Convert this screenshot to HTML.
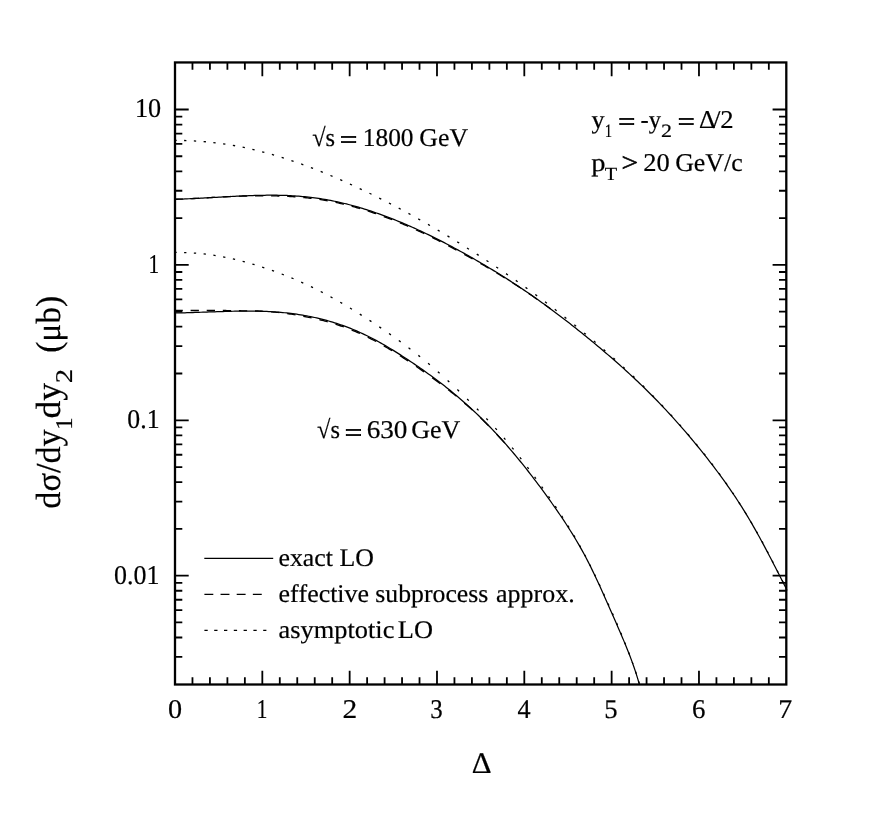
<!DOCTYPE html>
<html><head><meta charset="utf-8"><title>plot</title>
<style>html,body{margin:0;padding:0;background:#fff;}body{width:872px;height:828px;position:relative;overflow:hidden;font-family:"Liberation Serif",serif;}</style>
</head><body>
<svg width="872" height="828" viewBox="0 0 872 828" style="position:absolute;left:0;top:0;filter:grayscale(1)">
<rect width="872" height="828" fill="#fff"/>
<defs><clipPath id="cp"><rect x="175.00" y="62.45" width="612.50" height="622.05"/></clipPath></defs>
<g clip-path="url(#cp)" fill="none" stroke="#000">
<path d="M175.00 199.30 L176.99 199.23 L178.99 199.16 L180.98 199.09 L182.98 199.01 L184.97 198.93 L186.97 198.84 L188.96 198.75 L190.96 198.66 L192.95 198.56 L194.94 198.46 L196.94 198.36 L198.93 198.26 L200.93 198.15 L202.92 198.04 L204.92 197.93 L206.91 197.82 L208.91 197.71 L210.90 197.60 L212.89 197.49 L214.89 197.38 L216.88 197.27 L218.88 197.15 L220.87 197.04 L222.87 196.93 L224.86 196.82 L226.86 196.72 L228.85 196.61 L230.84 196.50 L232.84 196.40 L234.83 196.30 L236.83 196.20 L238.82 196.11 L240.82 196.02 L242.81 195.93 L244.81 195.84 L246.80 195.76 L248.80 195.69 L250.79 195.61 L252.78 195.55 L254.78 195.49 L256.77 195.43 L258.77 195.38 L260.76 195.33 L262.76 195.29 L264.75 195.26 L266.75 195.24 L268.74 195.22 L270.73 195.21 L272.73 195.21 L274.72 195.22 L276.72 195.24 L278.71 195.27 L280.71 195.30 L282.70 195.35 L284.70 195.41 L286.69 195.48 L288.68 195.56 L290.68 195.66 L292.67 195.77 L294.67 195.89 L296.66 196.02 L298.66 196.17 L300.65 196.34 L302.65 196.51 L304.64 196.70 L306.63 196.91 L308.63 197.12 L310.62 197.36 L312.62 197.60 L314.61 197.86 L316.61 198.14 L318.60 198.43 L320.60 198.73 L322.59 199.05 L324.58 199.38 L326.58 199.73 L328.57 200.09 L330.57 200.46 L332.56 200.85 L334.56 201.26 L336.55 201.67 L338.55 202.11 L340.54 202.56 L342.53 203.02 L344.53 203.49 L346.52 203.98 L348.52 204.49 L350.51 205.01 L352.51 205.54 L354.50 206.09 L356.50 206.65 L358.49 207.22 L360.49 207.81 L362.48 208.41 L364.47 209.03 L366.47 209.65 L368.46 210.29 L370.46 210.95 L372.45 211.61 L374.45 212.29 L376.44 212.98 L378.44 213.68 L380.43 214.39 L382.42 215.12 L384.42 215.85 L386.41 216.60 L388.41 217.35 L390.40 218.12 L392.40 218.90 L394.39 219.69 L396.39 220.49 L398.38 221.30 L400.37 222.12 L402.37 222.95 L404.36 223.79 L406.36 224.64 L408.35 225.50 L410.35 226.38 L412.34 227.26 L414.34 228.15 L416.33 229.05 L418.32 229.97 L420.32 230.89 L422.31 231.82 L424.31 232.76 L426.30 233.72 L428.30 234.68 L430.29 235.65 L432.29 236.63 L434.28 237.61 L436.27 238.61 L438.27 239.62 L440.26 240.63 L442.26 241.65 L444.25 242.68 L446.25 243.72 L448.24 244.77 L450.24 245.82 L452.23 246.89 L454.22 247.96 L456.22 249.03 L458.21 250.12 L460.21 251.21 L462.20 252.31 L464.20 253.41 L466.19 254.52 L468.19 255.64 L470.18 256.77 L472.17 257.90 L474.17 259.04 L476.16 260.19 L478.16 261.34 L480.15 262.51 L482.15 263.68 L484.14 264.85 L486.14 266.04 L488.13 267.23 L490.13 268.43 L492.12 269.64 L494.11 270.86 L496.11 272.08 L498.10 273.31 L500.10 274.56 L502.09 275.80 L504.09 277.06 L506.08 278.33 L508.08 279.60 L510.07 280.89 L512.06 282.18 L514.06 283.48 L516.05 284.79 L518.05 286.11 L520.04 287.43 L522.04 288.77 L524.03 290.12 L526.03 291.47 L528.02 292.84 L530.01 294.21 L532.01 295.59 L534.00 296.99 L536.00 298.39 L537.99 299.80 L539.99 301.22 L541.98 302.65 L543.98 304.09 L545.97 305.54 L547.96 306.99 L549.96 308.46 L551.95 309.94 L553.95 311.42 L555.94 312.91 L557.94 314.41 L559.93 315.92 L561.93 317.44 L563.92 318.97 L565.91 320.51 L567.91 322.05 L569.90 323.60 L571.90 325.17 L573.89 326.74 L575.89 328.31 L577.88 329.90 L579.88 331.49 L581.87 333.09 L583.86 334.70 L585.86 336.32 L587.85 337.95 L589.85 339.58 L591.84 341.22 L593.84 342.86 L595.83 344.52 L597.83 346.18 L599.82 347.85 L601.81 349.53 L603.81 351.22 L605.80 352.92 L607.80 354.63 L609.79 356.34 L611.79 358.07 L613.78 359.81 L615.78 361.55 L617.77 363.31 L619.77 365.08 L621.76 366.86 L623.75 368.65 L625.75 370.46 L627.74 372.28 L629.74 374.11 L631.73 375.95 L633.73 377.81 L635.72 379.68 L637.72 381.56 L639.71 383.46 L641.70 385.38 L643.70 387.31 L645.69 389.26 L647.69 391.22 L649.68 393.20 L651.68 395.20 L653.67 397.21 L655.67 399.25 L657.66 401.30 L659.65 403.37 L661.65 405.46 L663.64 407.56 L665.64 409.68 L667.63 411.83 L669.63 413.99 L671.62 416.16 L673.62 418.36 L675.61 420.58 L677.60 422.81 L679.60 425.07 L681.59 427.34 L683.59 429.63 L685.58 431.95 L687.58 434.28 L689.57 436.63 L691.57 439.00 L693.56 441.39 L695.55 443.80 L697.55 446.23 L699.54 448.69 L701.54 451.16 L703.53 453.65 L705.53 456.16 L707.52 458.70 L709.52 461.26 L711.51 463.84 L713.50 466.45 L715.50 469.09 L717.49 471.75 L719.49 474.45 L721.48 477.17 L723.48 479.93 L725.47 482.72 L727.47 485.54 L729.46 488.40 L731.46 491.30 L733.45 494.24 L735.44 497.22 L737.44 500.25 L739.43 503.32 L741.43 506.45 L743.42 509.62 L745.42 512.85 L747.41 516.13 L749.41 519.48 L751.40 522.88 L753.39 526.34 L755.39 529.86 L757.38 533.43 L759.38 537.04 L761.37 540.71 L763.37 544.41 L765.36 548.16 L767.36 551.93 L769.35 555.74 L771.34 559.58 L773.34 563.43 L775.33 567.30 L777.33 571.19 L779.32 575.07 L781.32 578.96 L783.31 582.84 L785.31 586.72 L787.30 590.57" stroke-width="1.25"/>
<path d="M175.00 312.98 L177.00 312.95 L178.99 312.90 L180.99 312.86 L182.98 312.81 L184.98 312.76 L186.97 312.70 L188.97 312.64 L190.96 312.58 L192.96 312.52 L194.95 312.45 L196.95 312.38 L198.94 312.32 L200.94 312.25 L202.93 312.18 L204.93 312.11 L206.93 312.04 L208.92 311.97 L210.92 311.90 L212.91 311.83 L214.91 311.76 L216.90 311.69 L218.90 311.63 L220.89 311.57 L222.89 311.51 L224.88 311.45 L226.88 311.39 L228.87 311.34 L230.87 311.29 L232.86 311.25 L234.86 311.21 L236.86 311.17 L238.85 311.14 L240.85 311.12 L242.84 311.10 L244.84 311.08 L246.83 311.08 L248.83 311.08 L250.82 311.08 L252.82 311.10 L254.81 311.12 L256.81 311.15 L258.80 311.19 L260.80 311.24 L262.80 311.30 L264.79 311.37 L266.79 311.45 L268.78 311.54 L270.78 311.65 L272.77 311.77 L274.77 311.90 L276.76 312.04 L278.76 312.20 L280.75 312.37 L282.75 312.55 L284.74 312.75 L286.74 312.96 L288.73 313.18 L290.73 313.42 L292.73 313.68 L294.72 313.95 L296.72 314.23 L298.71 314.53 L300.71 314.84 L302.70 315.17 L304.70 315.52 L306.69 315.88 L308.69 316.26 L310.68 316.65 L312.68 317.07 L314.67 317.49 L316.67 317.94 L318.66 318.40 L320.66 318.88 L322.66 319.38 L324.65 319.90 L326.65 320.44 L328.64 320.99 L330.64 321.57 L332.63 322.16 L334.63 322.78 L336.62 323.41 L338.62 324.07 L340.61 324.74 L342.61 325.44 L344.60 326.16 L346.60 326.90 L348.59 327.66 L350.59 328.44 L352.59 329.25 L354.58 330.08 L356.58 330.93 L358.57 331.81 L360.57 332.70 L362.56 333.62 L364.56 334.56 L366.55 335.53 L368.55 336.51 L370.54 337.52 L372.54 338.54 L374.53 339.59 L376.53 340.66 L378.52 341.75 L380.52 342.85 L382.52 343.98 L384.51 345.13 L386.51 346.29 L388.50 347.47 L390.50 348.67 L392.49 349.89 L394.49 351.12 L396.48 352.36 L398.48 353.63 L400.47 354.90 L402.47 356.19 L404.46 357.48 L406.46 358.79 L408.45 360.11 L410.45 361.44 L412.45 362.78 L414.44 364.13 L416.44 365.49 L418.43 366.86 L420.43 368.24 L422.42 369.63 L424.42 371.04 L426.41 372.46 L428.41 373.89 L430.40 375.33 L432.40 376.79 L434.39 378.26 L436.39 379.75 L438.39 381.25 L440.38 382.77 L442.38 384.30 L444.37 385.85 L446.37 387.42 L448.36 389.01 L450.36 390.61 L452.35 392.23 L454.35 393.88 L456.34 395.54 L458.34 397.22 L460.33 398.93 L462.33 400.66 L464.32 402.41 L466.32 404.18 L468.32 405.98 L470.31 407.80 L472.31 409.64 L474.30 411.51 L476.30 413.40 L478.29 415.31 L480.29 417.25 L482.28 419.21 L484.28 421.20 L486.27 423.21 L488.27 425.24 L490.26 427.30 L492.26 429.39 L494.25 431.50 L496.25 433.64 L498.25 435.80 L500.24 437.98 L502.24 440.20 L504.23 442.43 L506.23 444.70 L508.22 446.98 L510.22 449.30 L512.21 451.64 L514.21 454.00 L516.20 456.39 L518.20 458.81 L520.19 461.25 L522.19 463.72 L524.18 466.21 L526.18 468.72 L528.18 471.26 L530.17 473.83 L532.17 476.41 L534.16 479.02 L536.16 481.66 L538.15 484.31 L540.15 486.99 L542.14 489.69 L544.14 492.41 L546.13 495.15 L548.13 497.91 L550.12 500.70 L552.12 503.50 L554.11 506.33 L556.11 509.19 L558.11 512.08 L560.10 515.00 L562.10 517.96 L564.09 520.96 L566.09 524.00 L568.08 527.09 L570.08 530.23 L572.07 533.42 L574.07 536.68 L576.06 540.00 L578.06 543.39 L580.05 546.86 L582.05 550.41 L584.05 554.05 L586.04 557.80 L588.04 561.64 L590.03 565.58 L592.03 569.61 L594.02 573.73 L596.02 577.93 L598.01 582.20 L600.01 586.55 L602.00 590.95 L604.00 595.41 L605.99 599.91 L607.99 604.43 L609.98 608.98 L611.98 613.53 L613.98 618.08 L615.97 622.62 L617.97 627.17 L619.96 631.76 L621.96 636.40 L623.95 641.12 L625.95 645.94 L627.94 650.90 L629.94 656.02 L631.93 661.36 L633.93 666.97 L635.92 672.92 L637.92 679.32 L639.91 686.32" stroke-width="1.25"/>
<path d="M175.00 199.30 L176.30 199.26 L177.60 199.21 L178.90 199.17 L180.20 199.12 L181.50 199.07 L182.80 199.02M190.60 198.67 L191.98 198.61 L193.37 198.54 L194.75 198.47 L196.13 198.40 L197.52 198.33 L198.90 198.26M206.70 197.84 L208.08 197.76 L209.47 197.68 L210.85 197.60 L212.23 197.53 L213.62 197.45 L215.00 197.37M222.80 196.94 L224.18 196.86 L225.57 196.78 L226.95 196.71 L228.33 196.64 L229.72 196.57 L231.10 196.50M238.90 196.17 L240.28 196.12 L241.67 196.08 L243.05 196.03 L244.43 195.99 L245.82 195.96 L247.20 195.92M255.00 195.79 L256.38 195.78 L257.77 195.76 L259.15 195.76 L260.53 195.75 L261.92 195.75 L263.30 195.75M271.10 195.83 L272.48 195.85 L273.87 195.88 L275.25 195.91 L276.63 195.95 L278.02 195.99 L279.40 196.03M287.20 196.35 L288.58 196.42 L289.97 196.49 L291.35 196.57 L292.73 196.66 L294.12 196.75 L295.50 196.84M303.30 197.47 L304.68 197.61 L306.07 197.75 L307.45 197.89 L308.83 198.05 L310.22 198.21 L311.60 198.38M319.40 199.45 L320.78 199.66 L322.17 199.88 L323.55 200.11 L324.93 200.34 L326.32 200.58 L327.70 200.83M335.50 202.35 L336.88 202.65 L338.27 202.95 L339.65 203.25 L341.03 203.57 L342.42 203.89 L343.80 204.22M351.60 206.20 L352.98 206.57 L354.37 206.95 L355.75 207.34 L357.13 207.73 L358.52 208.13 L359.90 208.54M367.70 210.95 L369.08 211.39 L370.47 211.85 L371.85 212.31 L373.23 212.78 L374.62 213.25 L376.00 213.73M383.80 216.52 L385.18 217.04 L386.57 217.56 L387.95 218.08 L389.33 218.61 L390.72 219.14 L392.10 219.68M399.90 222.82 L401.28 223.40 L402.67 223.97 L404.05 224.56 L405.43 225.15 L406.82 225.74 L408.20 226.34M416.00 229.80 L417.38 230.44 L418.77 231.07 L420.15 231.71 L421.53 232.36 L422.92 233.01 L424.30 233.66M432.10 237.43 L433.48 238.12 L434.87 238.81 L436.25 239.50 L437.63 240.19 L439.02 240.90 L440.40 241.60M448.20 245.65 L449.58 246.38 L450.97 247.11 L452.35 247.85 L453.73 248.59 L455.12 249.34 L456.50 250.08M464.30 254.34 L465.68 255.10 L467.07 255.87 L468.45 256.64 L469.83 257.41 L471.22 258.18 L472.60 258.96M480.40 263.39 L481.78 264.18 L483.17 264.98 L484.55 265.79 L485.93 266.59 L487.32 267.40 L488.70 268.21M496.50 272.86 L497.88 273.69 L499.27 274.53 L500.65 275.38 L502.03 276.22 L503.42 277.08 L504.80 277.93M512.60 282.84 L513.98 283.72 L515.37 284.61 L516.75 285.50 L518.13 286.40 L519.52 287.30 L520.90 288.21M528.70 293.42 L530.08 294.36 L531.47 295.31 L532.85 296.26 L534.23 297.22 L535.62 298.18 L537.00 299.14M544.80 304.70 L546.23 305.73 L547.66 306.77 L549.08 307.82 L550.51 308.87" stroke-width="1.35"/>
<path d="M175.00 310.50 L176.30 310.50 L177.60 310.50 L178.90 310.50 L180.20 310.50 L181.50 310.50 L182.80 310.50M190.60 310.50 L191.98 310.50 L193.37 310.50 L194.75 310.50 L196.13 310.50 L197.52 310.50 L198.90 310.50M206.70 310.50 L208.08 310.50 L209.47 310.50 L210.85 310.50 L212.23 310.50 L213.62 310.50 L215.00 310.50M222.80 310.52 L224.18 310.53 L225.57 310.54 L226.95 310.56 L228.33 310.58 L229.72 310.60 L231.10 310.62M238.90 310.76 L240.28 310.79 L241.67 310.81 L243.05 310.84 L244.43 310.86 L245.82 310.89 L247.20 310.91M255.00 310.99 L256.38 311.00 L257.77 311.00 L259.15 311.20 L260.53 311.24 L261.92 311.29 L263.30 311.34M271.10 311.82 L272.48 311.93 L273.87 312.05 L275.25 312.17 L276.63 312.31 L278.02 312.45 L279.40 312.60M287.20 313.58 L288.58 313.78 L289.97 313.99 L291.35 314.20 L292.73 314.41 L294.12 314.63 L295.50 314.86M303.30 316.26 L304.68 316.53 L306.07 316.80 L307.45 317.07 L308.83 317.36 L310.22 317.64 L311.60 317.93M319.40 319.68 L320.78 320.02 L322.17 320.36 L323.55 320.71 L324.93 321.08 L326.32 321.45 L327.70 321.83M335.50 324.15 L336.88 324.59 L338.27 325.05 L339.65 325.51 L341.03 325.99 L342.42 326.47 L343.80 326.96M351.60 329.95 L352.98 330.52 L354.37 331.09 L355.75 331.68 L357.13 332.28 L358.52 332.88 L359.90 333.50M367.70 337.19 L369.08 337.88 L370.47 338.58 L371.85 339.29 L373.23 340.00 L374.62 340.73 L376.00 341.47M383.80 345.82 L385.18 346.62 L386.57 347.43 L387.95 348.24 L389.33 349.07 L390.72 349.90 L392.10 350.75M399.90 355.63 L401.28 356.52 L402.67 357.41 L404.05 358.31 L405.43 359.22 L406.82 360.13 L408.20 361.04M416.00 366.29 L417.38 367.24 L418.77 368.19 L420.15 369.15 L421.53 370.11 L422.92 371.08 L424.30 372.05M432.10 377.61 L433.48 378.61 L434.87 379.62 L436.25 380.64 L437.63 381.66 L439.02 382.69 L440.40 383.73M448.20 389.70 L449.58 390.79 L450.97 391.88 L452.35 392.98 L453.73 394.09 L455.12 395.22 L456.50 396.35M464.30 402.91 L465.68 404.12 L467.07 405.33 L468.45 406.55 L469.83 407.78 L471.22 409.03 L472.60 410.29M480.40 417.60 L481.78 418.94 L483.17 420.29 L484.55 421.65 L485.93 423.02 L487.32 424.41 L488.70 425.81M496.50 433.95 L497.88 435.44 L499.27 436.94 L500.65 438.45 L502.03 439.98 L503.42 441.52 L504.80 443.08" stroke-width="1.35"/>
<path d="M174.35 140.41L176.65 140.41M184.10 140.51L186.40 140.58M193.85 140.89L196.15 141.03M203.60 141.57L205.89 141.77M213.35 142.53L215.64 142.80M223.11 143.80L225.38 144.13M232.86 145.36L235.13 145.76M242.62 147.22L244.87 147.69M252.37 149.36L254.61 149.90M262.13 151.79L264.35 152.37M271.89 154.47L274.09 155.11M281.64 157.40L283.84 158.09M291.40 160.57L293.58 161.31M301.16 163.98L303.32 164.77M310.91 167.62L313.06 168.44M320.67 171.46L322.80 172.33M330.43 175.50L332.54 176.39M340.18 179.70L342.29 180.63M349.94 184.06L352.03 185.01M359.69 188.57L361.77 189.55M369.45 193.24L371.51 194.25M379.20 198.05L381.26 199.09M388.96 203.02L391.00 204.08M398.71 208.14L400.74 209.23M408.47 213.41L410.48 214.52M418.22 218.82L420.23 219.95M427.98 224.38L429.97 225.53M437.73 230.07L439.71 231.24M447.49 235.90L449.46 237.09M457.24 241.86L459.20 243.07M467.00 247.95L468.94 249.18M476.75 254.16L478.69 255.41M486.51 260.50L488.43 261.76M496.26 266.98L498.17 268.26M506.02 273.60L507.91 274.91M515.78 280.39L517.65 281.72M525.53 287.35L527.40 288.70M535.29 294.49L537.14 295.86M545.05 301.82L546.88 303.21M554.80 309.33L556.62 310.74M564.56 317.01L566.36 318.45M574.32 324.86L576.10 326.32M584.07 332.88L585.84 334.35M593.83 341.07L595.58 342.55M603.59 349.44L605.32 350.95M613.35 358.03L615.06 359.56M623.11 366.87L624.80 368.43M632.87 376.00L634.53 377.59M642.63 385.46L644.27 387.08M652.32 395.20L653.93 396.84M661.67 404.93L663.25 406.61M670.70 414.67L672.25 416.37M679.43 424.40L680.95 426.13M687.88 434.14L689.38 435.89M696.06 443.88L697.52 445.65M703.95 453.61L705.38 455.42M711.54 463.35L712.93 465.18M718.83 473.08L720.19 474.94M725.81 482.82L727.13 484.70M732.49 492.55L733.77 494.47M738.87 502.29L740.11 504.23M744.99 512.03L746.19 513.99M750.86 521.77L752.02 523.75M756.49 531.51L757.62 533.51M761.91 541.25L763.01 543.27M767.13 550.99L768.20 553.02M772.18 560.73L773.23 562.78M777.14 570.48L778.18 572.53M782.07 580.23L783.11 582.28" stroke-width="1.3"/>
<path d="M174.35 252.45L176.65 252.44M184.10 252.56L186.40 252.64M193.85 253.04L196.14 253.21M203.60 253.92L205.89 254.19M213.36 255.20L215.63 255.56M223.12 256.88L225.37 257.32M232.87 258.93L235.11 259.46M242.63 261.35L244.85 261.95M252.39 264.08L254.59 264.74M262.15 267.10L264.33 267.81M271.91 270.39L274.07 271.17M281.67 273.99L283.81 274.82M291.43 277.89L293.55 278.77M301.19 282.10L303.28 283.05M310.95 286.64L313.02 287.64M320.71 291.51L322.76 292.58M330.48 296.72L332.49 297.83M340.24 302.23L342.23 303.39M350.00 308.03L351.96 309.23M359.76 314.09L361.70 315.33M369.52 320.37L371.44 321.64M379.28 326.85L381.18 328.14M389.04 333.56L390.92 334.88M398.80 340.52L400.66 341.87M408.56 347.77L410.39 349.17M418.33 355.38L420.12 356.81M428.09 363.37L429.85 364.85M437.86 371.75L439.59 373.27M447.62 380.49L449.32 382.05M457.39 389.59L459.05 391.17M467.15 398.99L468.79 400.61M476.91 408.72L478.53 410.36M486.32 418.45L487.90 420.12M495.34 428.18L496.88 429.89M503.94 437.91L505.43 439.66M512.10 447.64L513.56 449.42M519.89 457.38L521.30 459.19M527.36 467.11L528.74 468.95M534.58 476.85L535.94 478.71M541.61 486.59L542.94 488.47M548.48 496.33L549.79 498.22M555.17 506.07L556.46 507.98M561.66 515.81L562.91 517.74M567.88 525.55L569.09 527.50M573.80 535.28L574.96 537.27M579.40 545.02L580.51 547.03M584.67 554.75L585.74 556.79M589.68 564.49L590.71 566.55M594.47 574.23L595.47 576.31M599.10 583.98L600.08 586.06M603.61 593.72L604.56 595.81M608.02 603.47L608.97 605.57M612.37 613.21L613.30 615.32M616.62 622.96L617.53 625.07M620.75 632.70L621.64 634.83M624.74 642.45L625.59 644.58M628.56 652.19L629.38 654.34M632.19 661.93L632.97 664.09M635.61 671.67L636.34 673.85M638.73 681.41L639.39 683.61" stroke-width="1.3"/>
</g>
<g stroke="#000" fill="none">
<rect x="175.00" y="62.45" width="611.30" height="622.05" stroke-width="2.3"/>
<path d="M192.47 684.50v-7.30M192.47 62.45v7.30M209.93 684.50v-7.30M209.93 62.45v7.30M227.40 684.50v-7.30M227.40 62.45v7.30M244.86 684.50v-7.30M244.86 62.45v7.30M262.33 684.50v-13.70M262.33 62.45v13.70M279.79 684.50v-7.30M279.79 62.45v7.30M297.26 684.50v-7.30M297.26 62.45v7.30M314.73 684.50v-7.30M314.73 62.45v7.30M332.19 684.50v-7.30M332.19 62.45v7.30M349.66 684.50v-13.70M349.66 62.45v13.70M367.12 684.50v-7.30M367.12 62.45v7.30M384.59 684.50v-7.30M384.59 62.45v7.30M402.05 684.50v-7.30M402.05 62.45v7.30M419.52 684.50v-7.30M419.52 62.45v7.30M436.99 684.50v-13.70M436.99 62.45v13.70M454.45 684.50v-7.30M454.45 62.45v7.30M471.92 684.50v-7.30M471.92 62.45v7.30M489.38 684.50v-7.30M489.38 62.45v7.30M506.85 684.50v-7.30M506.85 62.45v7.30M524.31 684.50v-13.70M524.31 62.45v13.70M541.78 684.50v-7.30M541.78 62.45v7.30M559.25 684.50v-7.30M559.25 62.45v7.30M576.71 684.50v-7.30M576.71 62.45v7.30M594.18 684.50v-7.30M594.18 62.45v7.30M611.64 684.50v-13.70M611.64 62.45v13.70M629.11 684.50v-7.30M629.11 62.45v7.30M646.57 684.50v-7.30M646.57 62.45v7.30M664.04 684.50v-7.30M664.04 62.45v7.30M681.51 684.50v-7.30M681.51 62.45v7.30M698.97 684.50v-13.70M698.97 62.45v13.70M716.44 684.50v-7.30M716.44 62.45v7.30M733.90 684.50v-7.30M733.90 62.45v7.30M751.37 684.50v-7.30M751.37 62.45v7.30M768.83 684.50v-7.30M768.83 62.45v7.30M175.00 656.94h7.30M786.30 656.94h-7.30M175.00 637.52h7.30M786.30 637.52h-7.30M175.00 622.46h7.30M786.30 622.46h-7.30M175.00 610.16h7.30M786.30 610.16h-7.30M175.00 599.75h7.30M786.30 599.75h-7.30M175.00 590.74h7.30M786.30 590.74h-7.30M175.00 582.79h7.30M786.30 582.79h-7.30M175.00 575.68h13.70M786.30 575.68h-13.70M175.00 528.90h7.30M786.30 528.90h-7.30M175.00 501.54h7.30M786.30 501.54h-7.30M175.00 482.12h7.30M786.30 482.12h-7.30M175.00 467.06h7.30M786.30 467.06h-7.30M175.00 454.76h7.30M786.30 454.76h-7.30M175.00 444.35h7.30M786.30 444.35h-7.30M175.00 435.34h7.30M786.30 435.34h-7.30M175.00 427.39h7.30M786.30 427.39h-7.30M175.00 420.28h13.70M786.30 420.28h-13.70M175.00 373.50h7.30M786.30 373.50h-7.30M175.00 346.14h7.30M786.30 346.14h-7.30M175.00 326.72h7.30M786.30 326.72h-7.30M175.00 311.66h7.30M786.30 311.66h-7.30M175.00 299.36h7.30M786.30 299.36h-7.30M175.00 288.95h7.30M786.30 288.95h-7.30M175.00 279.94h7.30M786.30 279.94h-7.30M175.00 271.99h7.30M786.30 271.99h-7.30M175.00 264.88h13.70M786.30 264.88h-13.70M175.00 218.10h7.30M786.30 218.10h-7.30M175.00 190.74h7.30M786.30 190.74h-7.30M175.00 171.32h7.30M786.30 171.32h-7.30M175.00 156.26h7.30M786.30 156.26h-7.30M175.00 143.96h7.30M786.30 143.96h-7.30M175.00 133.55h7.30M786.30 133.55h-7.30M175.00 124.54h7.30M786.30 124.54h-7.30M175.00 116.59h7.30M786.30 116.59h-7.30M175.00 109.48h13.70M786.30 109.48h-13.70" stroke-width="1.8"/>
</g>
<g stroke="#000" fill="none">
<path d="M204.3 558.25H273.2" stroke-width="1.25"/>
<path d="M204.4 594.3H262" stroke-width="1.3" stroke-dasharray="8.9 7.25"/>
<path d="M204.4 630.35H266.4" stroke-width="1.25" stroke-dasharray="3.3 6.5"/>
</g>
<g font-family="Liberation Serif, serif" fill="#000" stroke="#000" stroke-width="0.2" font-size="26" style="font-kerning:none;font-variant-ligatures:none;text-rendering:geometricPrecision">
<text transform="matrix(0.9532 0.0004 0 1 312.19 145.65)" font-size="25.60">√s</text>
<text transform="matrix(1.1920 0.0004 0 1 339.98 147.75)" font-size="25.60" stroke-width="0.7">=</text>
<text transform="matrix(0.9911 0.0004 0 1 362.82 145.65)" font-size="25.60">1800</text>
<text transform="matrix(1.0085 0.0004 0 1 419.34 145.65)" font-size="25.60">GeV</text>
<text transform="matrix(0.9532 0.0004 0 1 317.09 438.40)" font-size="25.60">√s</text>
<text transform="matrix(1.2004 0.0004 0 1 344.77 440.50)" font-size="25.60" stroke-width="0.7">=</text>
<text transform="matrix(1.0626 0.0004 0 1 366.63 438.40)" font-size="25.60">630</text>
<text transform="matrix(1.0170 0.0004 0 1 411.13 438.40)" font-size="25.60">GeV</text>
<text transform="matrix(1.0169 0.0004 0 1 278.49 566.20)" font-size="25.40">exact LO</text>
<text transform="matrix(1.0189 0.0004 0 1 278.49 602.20)" font-size="25.40">effective</text>
<text transform="matrix(1.0137 0.0004 0 1 375.34 602.20)" font-size="25.40">subprocess</text>
<text transform="matrix(1.0227 0.0004 0 1 496.09 602.20)" font-size="25.40">approx.</text>
<text transform="matrix(1.0393 0.0004 0 1 278.57 638.40)" font-size="25.40">asymptotic</text>
<text transform="matrix(1.0379 0.0004 0 1 397.84 638.40)" font-size="25.40">LO</text>
<text transform="matrix(1.0252 0.0004 0 1 591.48 127.70)" font-size="25.60">y</text>
<text transform="matrix(1.1752 0.0004 0 1 618.20 129.80)" font-size="25.60" stroke-width="0.7">=</text>
<text transform="matrix(0.9618 0.0004 0 1 640.59 127.70)" font-size="25.60">-y</text>
<text transform="matrix(1.1752 0.0004 0 1 677.70 129.80)" font-size="25.60" stroke-width="0.7">=</text>
<text transform="matrix(1.0120 0.0004 0 1 699.01 127.70)" font-size="25.60">Δ</text>
<text transform="matrix(1.0432 0.0004 0 1 712.90 127.70)" font-size="25.60">/2</text>
<text transform="matrix(0.7857 0.0004 0 1 604.80 136.60)" font-size="18.80">1</text>
<text transform="matrix(1.1676 0.0004 0 1 661.04 136.60)" font-size="18.80">2</text>
<text transform="matrix(1.1153 0.0004 0 1 591.34 171.40)" font-size="25.60">p</text>
<text transform="matrix(1.1501 0.0004 0 1 621.50 171.40)" font-size="25.60" stroke-width="0.6">&gt;</text>
<text transform="matrix(1.0340 0.0004 0 1 643.34 171.40)" font-size="25.60">20</text>
<text transform="matrix(1.0127 0.0004 0 1 675.14 171.40)" font-size="25.60">GeV/c</text>
<text transform="matrix(1.0976 0.0004 0 1 604.73 179.90)" font-size="18.50">T</text>
<text transform="matrix(1.0429 0.0004 0 1 167.93 717.90)" font-size="27.10">0</text>
<text transform="matrix(0.7861 0.0004 0 1 256.77 717.90)" font-size="27.10">1</text>
<text transform="matrix(1.0855 0.0004 0 1 342.53 717.90)" font-size="27.10">2</text>
<text transform="matrix(0.9185 0.0004 0 1 430.31 717.90)" font-size="27.10">3</text>
<text transform="matrix(0.9677 0.0004 0 1 517.50 717.90)" font-size="27.10">4</text>
<text transform="matrix(0.9855 0.0004 0 1 604.31 717.90)" font-size="27.10">5</text>
<text transform="matrix(0.9933 0.0004 0 1 692.09 717.90)" font-size="27.10">6</text>
<text transform="matrix(1.0351 0.0004 0 1 778.36 717.90)" font-size="27.10">7</text>
<text transform="matrix(0.9678 0.0004 0 1 134.94 117.38)" font-size="27.10">10</text>
<text transform="matrix(0.7861 0.0004 0 1 148.62 272.78)" font-size="27.10">1</text>
<text transform="matrix(0.9508 0.0004 0 1 127.33 428.18)" font-size="27.10">0.1</text>
<text transform="matrix(0.9590 0.0004 0 1 114.07 583.58)" font-size="27.10">0.01</text>
<text transform="matrix(1.0281 0.0004 0 1 471.63 773.00)" font-size="30.00">Δ</text>
<g transform="translate(60.0 507.4) rotate(-90)">
<text transform="matrix(0.9775 0.0004 0 1 -1.24 0.00)" font-size="35.00">dσ/dy</text>
<text transform="matrix(1.0652 0.0004 0 1 77.45 12.10)" font-size="24.00">1</text>
<text transform="matrix(1.0179 0.0004 0 1 88.91 0.00)" font-size="35.00">dy</text>
<text transform="matrix(1.1953 0.0004 0 1 124.24 12.10)" font-size="24.00">2</text>
<text transform="matrix(0.9575 0.0004 0 1 154.53 0.00)" font-size="35.00">(μb)</text>
</g>
</g>
</svg>
</body></html>
